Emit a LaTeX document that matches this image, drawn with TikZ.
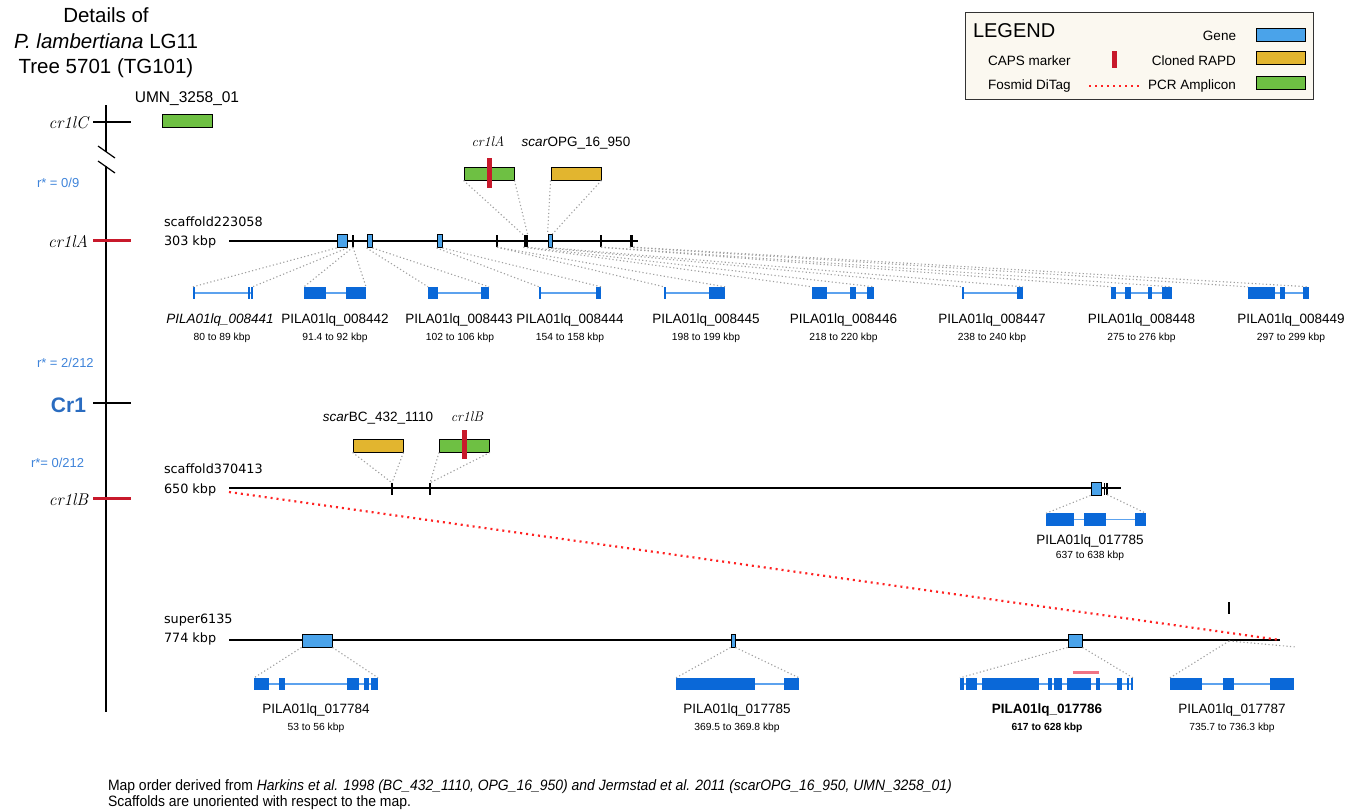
\documentclass[tikz,border=0pt]{standalone}
\usepackage{fontspec}
\newfontfamily\hv{Liberation Sans}
\newfontfamily\hvn[FakeStretch=0.93]{Liberation Sans}
\newfontfamily\dv{DejaVu Sans}
\newcommand\fsz[1]{\fontsize{#1}{#1}\selectfont}
\definecolor{genelt}{HTML}{4AA3EA}
\definecolor{genedk}{HTML}{0A68D8}
\definecolor{intronc}{HTML}{5CA2EE}
\definecolor{rapd}{HTML}{E2B52F}
\definecolor{pcrc}{HTML}{6EC043}
\definecolor{caps}{HTML}{C8192B}
\definecolor{rtext}{HTML}{3F84DA}
\definecolor{cronec}{HTML}{2A6CC0}
\definecolor{dotgrey}{HTML}{A0A0A0}
\definecolor{ditag}{HTML}{FF2222}
\definecolor{legbg}{HTML}{FBF8F0}
\definecolor{pinkbar}{HTML}{F07484}
\tikzset{
  txt/.style={inner sep=0pt, outer sep=0pt},
  titletxt/.style={txt, anchor=base, font=\hv\fsz{20.5}},
  glab/.style={txt, anchor=base, font=\hv\fsz{13.5}},
  grng/.style={txt, anchor=base, font=\hv\fsz{10.3}},
  scaf/.style={txt, anchor=base west, font=\dv\fsz{12.8}},
  mlab/.style={txt, anchor=base, font=\hv\fsz{13.5}},
  sermark/.style={txt, anchor=base, font=\itshape\fsz{14}},
  axlab/.style={txt, anchor=base east, font=\itshape\fsz{17}},
  rlab/.style={txt, anchor=base west, font=\hv\fsz{13}, text=rtext},
  leglab/.style={txt, font=\hv\fsz{13.5}},
  featbox/.style={draw=black, line width=0.9pt, fill=genelt, inner sep=0pt, minimum height=13pt},
  tickmark/.style={fill=black, inner sep=0pt, minimum width=2pt, minimum height=12pt},
  rapdbox/.style={draw=black, line width=0.9pt, fill=rapd, inner sep=0pt, minimum width=50pt, minimum height=13pt},
  pcrbox/.style={draw=black, line width=0.9pt, fill=pcrc, inner sep=0pt, minimum width=50pt, minimum height=13pt},
  capsbar/.style={fill=caps, inner sep=0pt, minimum width=5pt, minimum height=30pt},
  conn/.style={dotgrey, line width=1.1pt, dash pattern=on 1.2pt off 2.4pt},
  scline/.style={line width=1.1pt, black},
  axisline/.style={line width=1.2pt, black},
  redtick/.style={line width=3pt, caps},
  blacktick/.style={line width=1.2pt, black},
  intron/.style={intronc, line width=1.2pt},
  exon/.style={fill=genedk},
  ditagline/.style={ditag, line width=2.2pt, dash pattern=on 2pt off 4pt},
}
% gene model: name, y centre, x left, x right, exon list a/b
\newcommand{\genemodel}[5]{%
  \draw[intron] (#3,#2) -- (#4,#2);
  \foreach \a/\b in {#5} { \fill[exon] (\a,#2-6.2) rectangle (\b,#2+6.2); }
  \coordinate (#1L) at (#3,#2-6.2);
  \coordinate (#1R) at (#4,#2-6.2);
}
\begin{document}
\begin{tikzpicture}[x=1pt,y=-1pt]
\useasboundingbox (0,0) rectangle (1356,811);

% ---------- title ----------
\node[titletxt] (t1) at (106,23) {Details of};
\node[titletxt] (t2) at (106,48) {\textit{P. lambertiana} LG11};
\node[titletxt] (t3) at (106,73) {Tree 5701 (TG101)};

% ---------- legend ----------
\node[draw=black!80, line width=1.2pt, fill=legbg, minimum width=348pt, minimum height=87pt, inner sep=0pt, anchor=north west] (leg) at (965,12) {};
\node[txt, anchor=base west, font=\hv\fsz{20}] (legt) at (973,37) {LEGEND};
\node[leglab, anchor=base east] (lgene) at (1236,40) {Gene};
\node[leglab, anchor=base west] (lcaps) at (988,65) {CAPS marker};
\node[leglab, anchor=base east] (lrapd) at (1236,65) {Cloned RAPD};
\node[leglab, anchor=base west] (lfos) at (988,89) {Fosmid DiTag};
\node[leglab, anchor=base east] (lpcr) at (1236,89) {PCR Amplicon};
\node[featbox, minimum width=49pt] (lgbox) at (1280.5,34.5) {};
\node[rapdbox, minimum width=49pt] (lrbox) at (1280.5,58) {};
\node[pcrbox, minimum width=49pt] (lpbox) at (1280.5,83) {};
\node[capsbar, minimum height=17pt] (lcbar) at (1114.5,59.5) {};
\coordinate (ld1) at (1089,86);
\coordinate (ld2) at (1140,86);
\draw[ditag, line width=1.5pt, dash pattern=on 1.5pt off 4.5pt] (ld1) -- (ld2);

% ---------- left map axis ----------
\coordinate (ax0) at (106,105);
\coordinate (ax1) at (106,152);
\coordinate (ax2) at (106,166);
\coordinate (ax3) at (106,712);
\draw[axisline] (ax0) -- (ax1);
\draw[axisline] (ax2) -- (ax3);
\draw[axisline] (98,146) -- (115,158);
\draw[axisline] (98,161) -- (115,173);
\draw[blacktick] (93,122) -- (131,122);
\draw[redtick] (93,240) -- (131,240);
\draw[blacktick] (93,403) -- (131,403);
\draw[redtick] (93,498) -- (131,498);
\node[axlab] (lC) at (88,128) {cr1lC};
\node[axlab] (lA) at (88,247) {cr1lA};
\node[txt, anchor=base east, font=\hv\bfseries\fsz{21}, text=cronec] (lCr1) at (86,412) {Cr1};
\node[axlab] (lB) at (88,505) {cr1lB};
\node[rlab] (r1) at (37,187) {r* = 0/9};
\node[rlab] (r2) at (37,367) {r* = 2/212};
\node[rlab] (r3) at (31,467) {r*= 0/212};

% ---------- UMN marker ----------
\node[mlab, font=\hv\fsz{15.5}] (umnlab) at (187,102) {UMN\_3258\_01};
\node[pcrbox] (umn) at (187,121) {};

% ---------- scaffold223058 ----------
\node[scaf] (sc1a) at (164,226) {scaffold223058};
\node[scaf] (sc1b) at (164,245) {303 kbp};
\coordinate (s1a) at (229,241);
\coordinate (s1b) at (638,241);
\draw[scline] (s1a) -- (s1b);
\node[featbox, minimum width=10pt] (a1) at (342,241) {};
\node[tickmark] (a2) at (353,241) {};
\node[featbox, minimum width=5pt] (a3) at (369.5,241) {};
\node[featbox, minimum width=5pt] (a4) at (439.5,241) {};
\node[tickmark] (a5) at (497,241) {};
\node[tickmark, minimum width=4pt] (a6) at (525.5,241) {};
\node[featbox, minimum width=4pt] (a7) at (550,241) {};
\node[tickmark] (a8) at (601,241) {};
\node[tickmark, minimum width=3.5pt] (a9) at (631.5,241) {};

\node[sermark] (m1lab) at (488,146) {cr1lA};
\node[pcrbox] (m1) at (489,173.5) {};
\node[capsbar] (m1c) at (489.5,173) {};
\node[mlab] (m2lab) at (576,146) {\textit{scar}OPG\_16\_950};
\node[rapdbox] (m2) at (576,173.5) {};
\draw[conn] (m1.south west) -- (a6.north west);
\draw[conn] (m1.south east) -- (a6.north east);
\draw[conn] (m2.south west) -- (a7.north west);
\draw[conn] (m2.south east) -- (a7.north east);

% genes row 1
\genemodel{g41}{293}{193}{252.5}{193/194.5, 248/249.5, 251/252.5}
\genemodel{g42}{293}{304}{366}{304/326, 346/366}
\genemodel{g43}{293}{428}{489}{428/438, 481/489}
\genemodel{g44}{293}{539}{601}{539/540.5, 596/601}
\genemodel{g45}{293}{664}{725}{664/666, 709/725}
\genemodel{g46}{293}{812}{874}{812/827, 850/856, 867/874}
\genemodel{g47}{293}{962}{1023}{962/963.5, 1017/1023}
\genemodel{g48}{293}{1111}{1172}{1111/1116, 1125/1131, 1148/1152, 1162/1172}
\genemodel{g49}{293}{1248}{1309}{1248/1275, 1280/1285, 1303/1309}

\draw[conn] (a1.south west) -- (g41L);
\draw[conn] (a1.south east) -- (g41R);
\draw[conn] (a2.south) -- (g42L);
\draw[conn] (a2.south) -- (g42R);
\draw[conn] (a3.south west) -- (g43L);
\draw[conn] (a3.south east) -- (g43R);
\draw[conn] (a4.south west) -- (g44L);
\draw[conn] (a4.south east) -- (g44R);
\draw[conn] (a5.south) -- (g45L);
\draw[conn] (a5.south) -- (g45R);
\draw[conn] (a6.south west) -- (g46L);
\draw[conn] (a6.south east) -- (g46R);
\draw[conn] (a7.south west) -- (g47L);
\draw[conn] (a7.south east) -- (g47R);
\draw[conn] (a8.south) -- (g48L);
\draw[conn] (a8.south) -- (g48R);
\draw[conn] (a9.south west) -- (g49L);
\draw[conn] (a9.south east) -- (g49R);

\node[glab, font=\hv\itshape\fsz{13.5}] (n41) at (220,323) {PILA01lq\_008441};
\node[glab] (n42) at (335,323) {PILA01lq\_008442};
\node[glab] (n43) at (459,323) {PILA01lq\_008443};
\node[glab] (n44) at (570,323) {PILA01lq\_008444};
\node[glab] (n45) at (706,323) {PILA01lq\_008445};
\node[glab] (n46) at (843.5,323) {PILA01lq\_008446};
\node[glab] (n47) at (992,323) {PILA01lq\_008447};
\node[glab] (n48) at (1141.5,323) {PILA01lq\_008448};
\node[glab] (n49) at (1291,323) {PILA01lq\_008449};
\node[grng] (k41) at (222,340) {80 to 89 kbp};
\node[grng] (k42) at (335,340) {91.4 to 92 kbp};
\node[grng] (k43) at (460,340) {102 to 106 kbp};
\node[grng] (k44) at (570,340) {154 to 158 kbp};
\node[grng] (k45) at (706,340) {198 to 199 kbp};
\node[grng] (k46) at (843.5,340) {218 to 220 kbp};
\node[grng] (k47) at (992,340) {238 to 240 kbp};
\node[grng] (k48) at (1141.5,340) {275 to 276 kbp};
\node[grng] (k49) at (1291,340) {297 to 299 kbp};

% ---------- scaffold370413 ----------
\node[scaf] (sc2a) at (164,473) {scaffold370413};
\node[scaf] (sc2b) at (164,493) {650 kbp};
\coordinate (s2a) at (229,488);
\coordinate (s2b) at (1121,488);
\coordinate (s2d) at (229,492);
\draw[scline] (s2a) -- (s2b);
\node[tickmark] (b1) at (392,489) {};
\node[tickmark] (b2) at (430,489) {};
\node[featbox, minimum width=10pt] (b3) at (1096,488.5) {};
\node[tickmark, minimum width=1.6pt] (b4) at (1104.5,488.5) {};
\node[tickmark, minimum width=1.6pt] (b5) at (1107.2,488.5) {};

\node[mlab] (m3lab) at (378,421) {\textit{scar}BC\_432\_1110};
\node[rapdbox] (m3) at (378,445.5) {};
\node[sermark] (m4lab) at (467,421) {cr1lB};
\node[pcrbox] (m4) at (464.5,445.5) {};
\node[capsbar, minimum height=29pt] (m4c) at (464.5,444.5) {};
\draw[conn] (m3.south west) -- (b1.north);
\draw[conn] (m3.south east) -- (b1.north);
\draw[conn] (m4.south west) -- (b2.north);
\draw[conn] (m4.south east) -- (b2.north);

\genemodel{g85t}{519.5}{1046}{1146}{1046/1074, 1084/1106, 1135/1146}
\draw[conn] (b3.south west) -- (g85tL);
\draw[conn] (b5.south) -- (g85tR);
\node[glab] (n85t) at (1090,544) {PILA01lq\_017785};
\node[grng] (k85t) at (1090,558) {637 to 638 kbp};

% ---------- super6135 ----------
\node[scaf] (sc3a) at (164,623) {super6135};
\node[scaf] (sc3b) at (164,642) {774 kbp};
\coordinate (s3a) at (229,640);
\coordinate (s3b) at (1280,640);
\draw[scline] (s3a) -- (s3b);
\draw[ditagline] (s2d) -- (s3b);
\node[featbox, minimum width=30pt] (c1) at (317,640.5) {};
\node[featbox, minimum width=4pt] (c2) at (733,640.5) {};
\node[featbox, minimum width=14pt] (c3) at (1075,640.5) {};
\node[tickmark] (c4) at (1229,608) {};
\coordinate (c5) at (1229,641);
\coordinate (c6) at (1296,647);

\genemodel{g84}{684}{254}{378}{254/269, 279/285, 347/359, 364/369, 371/378}
\genemodel{g85}{684}{676}{799}{676/755, 784/799}
\genemodel{g86}{684}{960}{1133}{960/964, 966/977, 982/1039, 1048/1052, 1054/1062, 1067/1091, 1096/1100, 1117/1122, 1127/1128.5, 1131/1133}
\genemodel{g87}{684}{1170}{1294}{1170/1202, 1223/1234, 1270/1294}
\fill[pinkbar] (1073,671) rectangle (1099,673.5);

\draw[conn] (c1.south west) -- (g84L);
\draw[conn] (c1.south east) -- (g84R);
\draw[conn] (c2.south west) -- (g85L);
\draw[conn] (c2.south east) -- (g85R);
\draw[conn] (c3.south west) -- (g86L);
\draw[conn] (c3.south east) -- (g86R);
\draw[conn] (c5) -- (g87L);
\draw[conn] (c5) -- (c6);

\node[glab] (n84) at (316,713) {PILA01lq\_017784};
\node[glab] (n85) at (737,713) {PILA01lq\_017785};
\node[glab, font=\hv\bfseries\fsz{13.5}] (n86) at (1047,713) {PILA01lq\_017786};
\node[glab] (n87) at (1232,713) {PILA01lq\_017787};
\node[grng] (k84) at (316,730) {53 to 56 kbp};
\node[grng] (k85) at (737,730) {369.5 to 369.8 kbp};
\node[grng, font=\hv\bfseries\fsz{10.3}] (k86) at (1047,730) {617 to 628 kbp};
\node[grng] (k87) at (1232,730) {735.7 to 736.3 kbp};

% ---------- footer ----------
\node[txt, anchor=base west, font=\hvn\fsz{15}] (f1) at (108,790) {Map order derived from \textit{Harkins et al. 1998 (BC\_432\_1110, OPG\_16\_950) and Jermstad et al. 2011 (scarOPG\_16\_950, UMN\_3258\_01)}};
\node[txt, anchor=base west, font=\hvn\fsz{15}] (f2) at (108,806) {Scaffolds are unoriented with respect to the map.};
\end{tikzpicture}
\end{document}
